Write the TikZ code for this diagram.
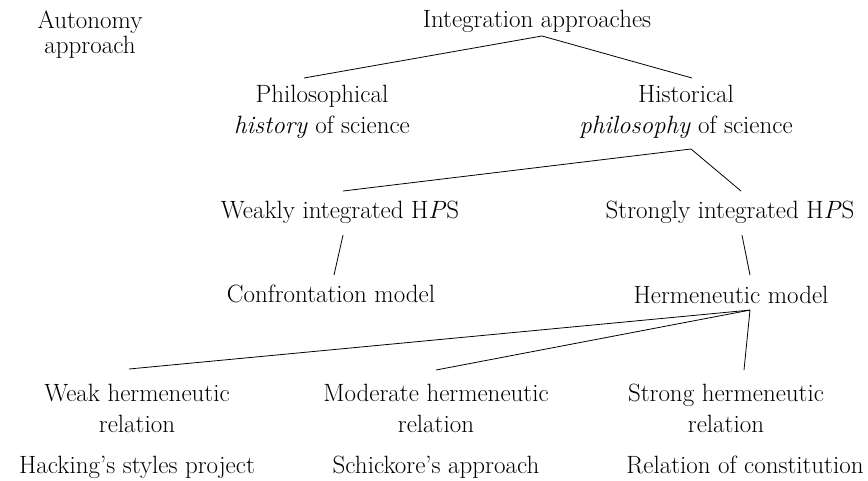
\documentclass[tikz,border=0pt]{standalone}
\usepackage{tikz}
\tikzstyle{link} = [draw, line width=0.6pt]
\tikzstyle{lbl} = [anchor=north, align=center, inner sep=0pt]

\begin{document}
\begin{tikzpicture}[x=0.75pt,y=-0.75pt,font=\fontsize{18.75}{23.25}\selectfont]
      \useasboundingbox (0,0) rectangle (868,480);

      % top row
      \node[lbl, font=\fontsize{18.75}{18.75}\selectfont] (auto) at (90,11) {Autonomy\\approach};
      \node[lbl] (int) at (537,10) {Integration approaches};

      % history / philosophy
      \node[lbl] (phil) at (322,85) {Philosophical\\\textit{history} of science};
      \node[lbl] (hist) at (686,85) {Historical\\\textit{philosophy} of science};

      % weak and strong HPS
      \node[lbl] (weak) at (340,201) {Weakly integrated H\textit{P}S};
      \node[lbl] (strong) at (730,201) {Strongly integrated H\textit{P}S};
      \node[lbl] (conf) at (331,285) {Confrontation model};
      \node[lbl] (herm) at (731,286) {Hermeneutic model};

      % hermeneutic relations
      \node[lbl] (wrel) at (137,384) {Weak hermeneutic\\relation};
      \node[lbl] (mrel) at (436,384) {Moderate hermeneutic\\relation};
      \node[lbl] (srel) at (726,384) {Strong hermeneutic\\relation};
      \node[lbl] (hack) at (137,456) {Hacking's styles project};
      \node[lbl] (schi) at (436,456) {Schickore's approach};
      \node[lbl] (cons) at (745,456) {Relation of constitution};

      % tree lines
      \path[link] ([shift={(-18,-7)}]phil.north) -- ([shift={(5,3)}]int.south) -- ([shift={(6,-7)}]hist.north);
      \path[link] ([shift={(3,-10)}]weak.north) -- ([shift={(5,10)}]hist.south) -- ([shift={(11,-10)}]strong.north);
      \path[link] ([shift={(3,11)}]weak.south) -- ([shift={(3,-10)}]conf.north);
      \path[link] ([shift={(12,11)}]strong.south) -- ([shift={(19,-11)}]herm.north);
      \path[link] ([shift={(-8,-15)}]wrel.north) -- ([shift={(19,6)}]herm.south);
      \path[link] ([shift={(0,-14)}]mrel.north) -- ([shift={(19,6)}]herm.south);
      \path[link] ([shift={(18,-14)}]srel.north) -- ([shift={(19,6)}]herm.south);
    \end{tikzpicture}
\end{document}
